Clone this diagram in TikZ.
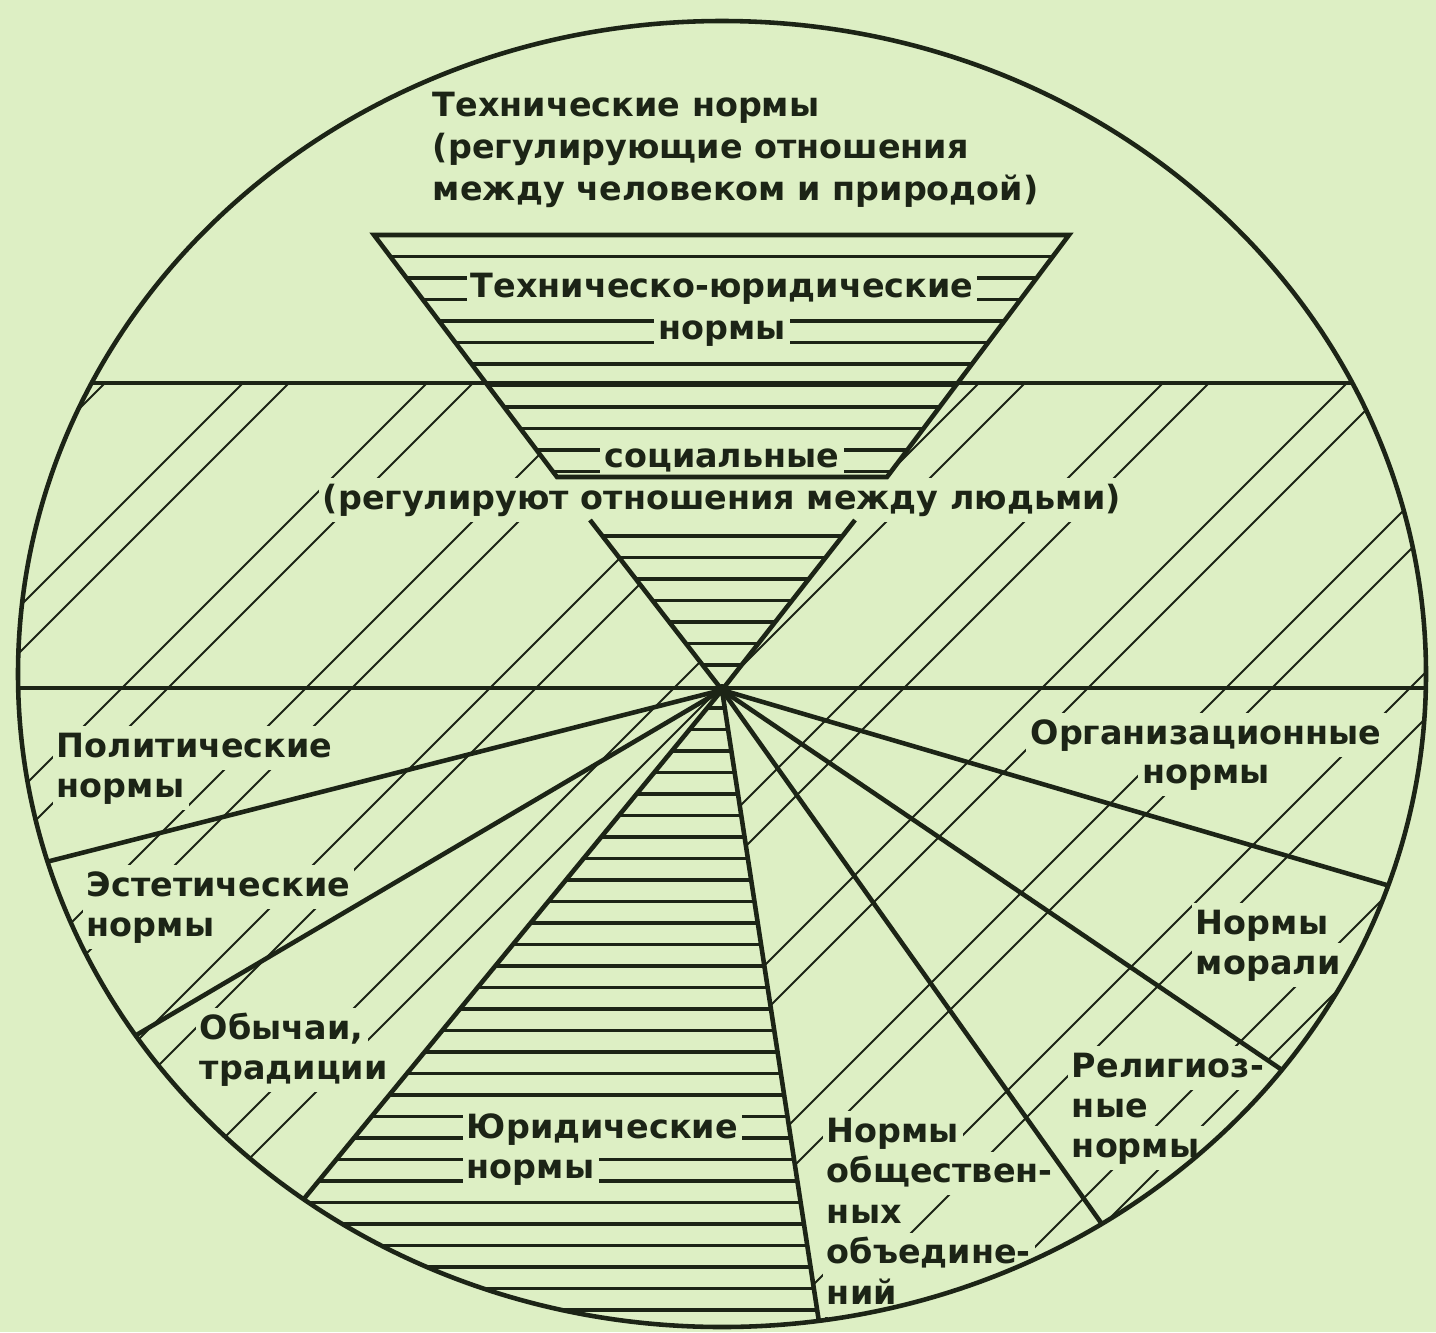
\documentclass[tikz,border=0pt]{standalone}
\usepackage{fontspec}
\setmainfont{DejaVu Sans}
\usetikzlibrary{calc}
\definecolor{paper}{RGB}{221,239,196}
\definecolor{ink}{RGB}{28,36,22}

\begin{document}
\begin{tikzpicture}[x=0.1mm, y=-0.1mm,
    rim/.style={draw=ink, line width=1.3pt},
    hatchh/.style={draw=ink, line width=0.9pt},
    hatchd/.style={draw=ink, line width=0.55pt},
    hlbl/.style={fill=paper, inner sep=1.2pt, text=ink, anchor=base west,
                 font=\bfseries\fontsize{9.5}{12}\selectfont},
    lbl/.style={hlbl, text height=0.76em, text depth=0.24em},
    clbl/.style={hlbl, anchor=base}
]
\useasboundingbox (0,0) rectangle (1436,1332);
\fill[paper] (0,0) rectangle (1436,1332);

\coordinate (c0)  at (722,674);
\coordinate (hub) at (722,690);
\coordinate (tl)  at (374,235);
\coordinate (tr)  at (1069,235);
\coordinate (bl)  at (557,477);
\coordinate (br)  at (887,477);
\coordinate (ml)  at (590,520);
\coordinate (mr)  at (855,520);
\coordinate (r1)  at (46,862);
\coordinate (r2)  at (133,1037);
\coordinate (r3)  at (303,1200);
\coordinate (r4)  at (819,1322);
\coordinate (r5)  at (1104,1227);
\coordinate (r6)  at (1285,1072);
\coordinate (r7)  at (1390,886);

% slanted hatching
\begin{scope}
  \clip (c0) ellipse [x radius=704, y radius=653];
  \clip (0,383) rectangle (1436,1332);
  \foreach \c in {442,626,...,2282} {
    \draw[hatchd] (\c-1332,1332) -- (\c,0);
    \draw[hatchd] (\c+46-1332,1332) -- (\c+46,0);
  }
  \fill[paper] (tl) -- (tr) -- (hub) -- cycle;
  \fill[paper] (hub) -- ($(hub)!1.3!(r3)$) -- ($(hub)!1.3!(r4)$) -- cycle;
\end{scope}

% level hatching
\begin{scope}
  \clip (c0) ellipse [x radius=704, y radius=653];
  \clip (tl) -- (tr) -- (br) -- (bl) -- cycle
        (ml) -- (mr) -- (hub) -- cycle
        (hub) -- ($(hub)!1.3!(r3)$) -- ($(hub)!1.3!(r4)$) -- cycle;
  \foreach \y in {235,256.5,...,1330}
    \draw[hatchh] (0,\y) -- (1436,\y);
\end{scope}

\node[hlbl, align=left, anchor=west] (tech) at (428,150)
  {Технические нормы\\(регулирующие отношения\\между человеком и природой)};
\node[clbl] (techjur1) at (722,297) {Техническо-юридические};
\node[clbl] (techjur2) at (722,339) {нормы};
\node[clbl] (soc) at (722,467) {социальные};
\node[lbl, anchor=center] (socrel) at (722,500) {(регулируют отношения между людьми)};
\foreach \t [count=\i] in {Политические,нормы}
  \node[lbl] (polit\i) at (52,757+40*\i-40) {\t};
\foreach \t [count=\i] in {Эстетические,нормы}
  \node[lbl] (aesth\i) at (82,896+40*\i-40) {\t};
\foreach \t [count=\i] in {{Обычаи,},традиции}
  \node[lbl] (custom\i) at (195,1039+40*\i-40) {\t};
\foreach \t [count=\i] in {Юридические,нормы}
  \node[hlbl] (jur\i) at (462,1138+40*\i-40) {\t};
\foreach \t [count=\i] in {Нормы,обществен-,ных,объедине-,ний}
  \node[lbl] (assoc\i) at (822,1142+40.5*\i-40.5) {\t};
\foreach \t [count=\i] in {Религиоз-,ные,нормы}
  \node[lbl] (relig\i) at (1067,1077+40*\i-40) {\t};
\foreach \t [count=\i] in {Нормы,морали}
  \node[lbl] (moral\i) at (1191,934+40*\i-40) {\t};
\node[lbl, anchor=base] (org1) at (1206,744) {Организационные};
\node[lbl, anchor=base] (org2) at (1206,783) {нормы};

% main lines
\begin{scope}
  \clip (c0) ellipse [x radius=704, y radius=653];
  \draw[rim] (0,383) -- (1436,383);
  \draw[rim] (0,688) -- (1436,688);
  \foreach \r in {r1,r2,r3,r4,r5,r6,r7}
    \draw[rim] (hub) -- ($(hub)!1.1!(\r)$);
\end{scope}
\draw[rim] (c0) ellipse [x radius=704, y radius=653];
\draw[rim] (tl) -- (tr) -- (br) -- (bl) -- cycle;
\draw[rim] (ml) -- (hub) -- (mr);
\fill[ink] (hub) circle [radius=6];
\end{tikzpicture}
\end{document}
